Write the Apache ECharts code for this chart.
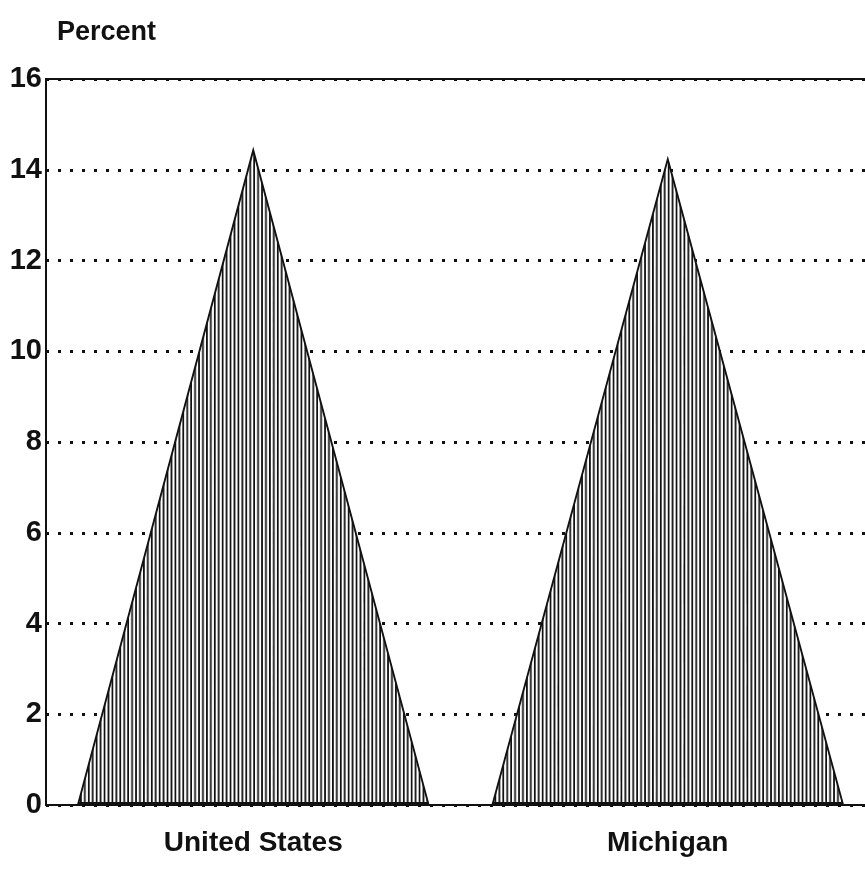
<!DOCTYPE html>
<html>
<head>
<meta charset="utf-8">
<script src="https://cdn.jsdelivr.net/npm/echarts@6/dist/echarts.min.js"></script>
<style>
html,body{margin:0;padding:0;background:#fff;}
#chart{width:865px;height:871px;}
</style>
</head>
<body>
<div id="chart"></div>
<script>
var categories = ['United States', 'Michigan'];
var values = [14.4, 14.2];
var yTicks = [0, 2, 4, 6, 8, 10, 12, 14, 16];
var axisTitle = 'Percent';

var FONT = '"Liberation Sans", Arial, sans-serif';

// vertical hatch pattern
var pc = document.createElement('canvas');
pc.width = 9; pc.height = 8;
var ctx = pc.getContext('2d');
ctx.fillStyle = '#ffffff';
ctx.fillRect(0, 0, 9, 8);
ctx.fillStyle = '#111111';
ctx.fillRect(0, 0, 2, 8);
ctx.fillRect(4.5, 0, 2, 8);

var chart = echarts.init(document.getElementById('chart'), null, {renderer: 'canvas'});
chart.setOption({
  backgroundColor: '#ffffff',
  animation: false,
  title: {
    text: axisTitle,
    left: 52, top: 14,
    textStyle: {fontFamily: FONT, fontWeight: 'bold', fontSize: 27, color: '#111'}
  },
  grid: {
    left: 46, width: 829, top: 79, bottom: 66,
    outerBoundsMode: 'none',
    containLabel: false,
    show: true, borderColor: '#111', borderWidth: 2, backgroundColor: 'transparent'
  },
  xAxis: {
    type: 'category',
    data: categories,
    axisLine: {show: true, lineStyle: {color: '#111', width: 2}},
    axisTick: {show: false},
    axisLabel: {
      margin: 24, fontFamily: FONT, fontWeight: 'bold', fontSize: 28, color: '#111'
    }
  },
  yAxis: {
    type: 'value',
    min: yTicks[0], max: yTicks[yTicks.length - 1], interval: 2,
    axisLine: {show: true, lineStyle: {color: '#111', width: 2}},
    axisTick: {show: false},
    axisLabel: {
      margin: 4, fontFamily: FONT, fontWeight: 'bold', fontSize: 29, color: '#111'
    },
    splitLine: {show: true, lineStyle: {color: '#111', width: 3, type: [3, 9]}}
  },
  series: [{
    type: 'pictorialBar',
    data: values,
    symbol: 'triangle',
    symbolSize: [350, '100%'],
    symbolPosition: 'start',
    itemStyle: {
      color: {image: pc, repeat: 'repeat'},
      borderColor: '#111',
      borderWidth: 2
    },
    z: 5
  }]
});
</script>
</body>
</html>
